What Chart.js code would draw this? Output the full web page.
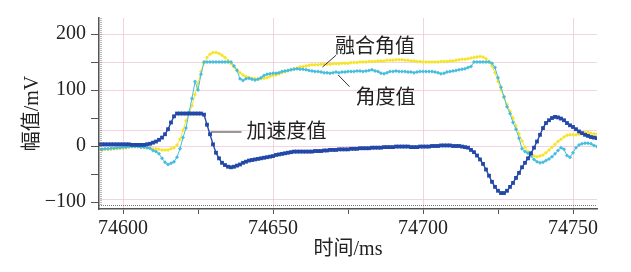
<!DOCTYPE html>
<html lang="zh">
<head>
<meta charset="UTF-8">
<title>幅值 / 时间</title>
<script src="https://cdn.jsdelivr.net/npm/chart.js"></script>
<style>
  html, body { margin: 0; padding: 0; background: #fff; }
  canvas { display: block; }
</style>
</head>
<body>
<canvas id="chart" width="631" height="272"></canvas>
<script>
// samples every 1 ms starting at 74592 ms
var startTime = 74592;

// 加速度值 (mV)
var accel = [
  3, 3, 3, 3, 3, 3, 3, 3, 3, 3,
  3, 2, 2, 2, 2, 2, 3, 4, 6, 8,
  11, 15, 21, 30, 42, 53, 58, 58, 58, 58,
  58, 58, 58, 58, 58, 56, 38, 21, 3, -12,
  -22, -30, -34, -37, -38, -37, -35, -33, -30, -28,
  -26, -25, -24, -23, -22, -21, -20, -19, -18, -16,
  -15, -14, -13, -12, -11, -10, -10, -10, -10, -10,
  -10, -10, -9, -9, -9, -8, -8, -7, -7, -7,
  -6, -6, -6, -6, -5, -5, -5, -4, -4, -4,
  -4, -3, -3, -3, -3, -2, -2, -2, -2, -1,
  -1, -1, -1, -1, -2, -2, -2, -1, -1, -1,
  -1, 0, 0, 0, 1, 1, 1, 1, 0, 0,
  0, -1, -2, -3, -7, -11, -17, -24, -32, -42,
  -53, -64, -73, -80, -84, -84, -80, -73, -66, -57,
  -48, -38, -30, -22, -13, -3, 8, 20, 32, 41,
  46, 50, 52, 51, 49, 46, 41, 37, 34, 30,
  26, 23, 20, 18, 16, 15, 14
];

// 融合角值
var fused = [
  -7, -7, -6, -6, -6, -5, -5, -4, -4, -3,
  -2, -1, -1, -1, -2, -2, -3, -4, -5, -5,
  -6, -7, -7, -7, -5, -3, 2, 12, 28, 45,
  58, 72, 92, 112, 133, 148, 158, 164, 167, 167,
  165, 162, 158, 153, 147, 141, 136, 131, 127, 124,
  122, 121, 120, 120, 120, 121, 122, 124, 126, 127,
  129, 131, 133, 135, 136, 138, 139, 141, 142, 143,
  144, 145, 145, 145, 146, 146, 146, 146, 147, 147,
  147, 148, 148, 148, 149, 149, 149, 150, 150, 150,
  151, 151, 151, 152, 152, 152, 153, 153, 153, 154,
  154, 154, 153, 153, 152, 152, 151, 151, 150, 150,
  150, 150, 150, 150, 151, 151, 151, 152, 152, 153,
  154, 155, 155, 156, 157, 158, 159, 160, 159, 156,
  151, 143, 131, 115, 100, 86, 74, 62, 50, 36,
  22, 9, -2, -10, -15, -18, -19, -18, -16, -12,
  -7, -2, 3, 8, 12, 16, 19, 20, 20, 20,
  21, 22, 24, 24, 23, 22, 21
];

// 角度值
var angle = [
  -6, -6, -5, -5, -4, -4, -3, -3, -2, -2,
  -1, -1, -1, -1, -2, -2, -3, -4, -8, -10,
  -14, -22, -29, -33, -31, -28, -20, -5, 15, 32,
  60, 85, 115, 100, 128, 150, 150, 150, 150, 150,
  150, 150, 150, 150, 150, 143, 135, 120, 117, 120,
  121, 119, 118, 119, 122, 126, 128, 129, 130, 130,
  131, 133, 134, 135, 136, 137, 138, 137, 137, 136,
  135, 134, 133, 133, 132, 131, 131, 130, 131, 132,
  131, 132, 132, 133, 133, 133, 134, 134, 133, 134,
  135, 136, 134, 133, 130, 129, 131, 133, 133, 134,
  133, 133, 133, 132, 132, 131, 132, 133, 133, 133,
  133, 133, 132, 131, 129, 130, 132, 133, 134, 135,
  136, 137, 138, 140, 142, 150, 150, 150, 150, 150,
  150, 148, 140, 122, 105, 88, 70, 58, 42, 30,
  14, -5, -10, -13, -18, -24, -28, -30, -29, -26,
  -23, -19, -14, -8, -3, -6, -17, -20, -12, -3,
  2, 4, 5, 5, 4, 1, -1
];

var times = accel.map(function (v, i) { return startTime + i; });

var xTicks = [74600, 74625, 74650, 74675, 74700, 74725, 74750];
var xLabelTicks = [74600, 74650, 74700, 74750];
var yTicks = [-100, -96, -50, 0, 28, 50, 100, 150, 200];
var yLabelTicks = [-100, 0, 100, 200];
var yGridTicks = [-96, 0, 28, 100, 150, 200];

// callout texts: label position and leader line, in data units (ms, mV)
var callouts = [
  { text: '融合角值', at: [74684, 180], from: [74666.5, 141], to: [74671, 162] },
  { text: '角度值', at: [74687.5, 89], from: [74671.7, 127], to: [74675.5, 106] },
  { text: '加速度值', at: [74654.5, 27], from: [74629.3, 25], to: [74639.5, 25] }
];

var pink = 'rgba(240, 200, 215, 0.8)';
var axisColor = '#555';
var textColor = '#222';
var serif = '"Liberation Serif", "Noto Sans CJK SC", serif';

function toPoints(values) {
  return values.map(function (v, i) { return { x: times[i], y: v }; });
}

var extras = {
  id: 'extras',
  afterDraw: function (chart) {
    var ctx = chart.ctx;
    var a = chart.chartArea;
    var xs = chart.scales.x, ys = chart.scales.y;
    ctx.save();
    // dotted inner frame lines
    ctx.strokeStyle = '#777';
    ctx.lineWidth = 1;
    ctx.setLineDash([1, 1]);
    ctx.beginPath();
    ctx.moveTo(a.left + 2, a.top);
    ctx.lineTo(a.left + 2, a.bottom - 4);
    ctx.moveTo(a.left, a.bottom - 3.5);
    ctx.lineTo(a.right, a.bottom - 3.5);
    ctx.stroke();
    ctx.setLineDash([]);
    // callouts
    ctx.strokeStyle = '#333';
    ctx.fillStyle = textColor;
    ctx.font = '20px "Noto Sans CJK SC", sans-serif';
    ctx.textAlign = 'center';
    ctx.textBaseline = 'middle';
    callouts.forEach(function (c) {
      ctx.beginPath();
      ctx.moveTo(xs.getPixelForValue(c.from[0]), ys.getPixelForValue(c.from[1]));
      ctx.lineTo(xs.getPixelForValue(c.to[0]), ys.getPixelForValue(c.to[1]));
      ctx.stroke();
      ctx.fillText(c.text, xs.getPixelForValue(c.at[0]), ys.getPixelForValue(c.at[1]));
    });
    ctx.restore();
  }
};

var ctx = document.getElementById('chart').getContext('2d');
new Chart(ctx, {
  type: 'line',
  data: {
    datasets: [
      {
        label: '加速度值',
        data: toPoints(accel),
        borderColor: '#2348a8',
        backgroundColor: '#2348a8',
        borderWidth: 1.4,
        pointStyle: 'rect',
        pointRadius: 2.7,
        pointBorderWidth: 0,
        tension: 0
      },
      {
        label: '角度值',
        data: toPoints(angle),
        borderColor: '#45bddc',
        backgroundColor: '#45bddc',
        borderWidth: 1,
        pointStyle: 'rectRot',
        pointRadius: 2,
        pointBorderWidth: 0,
        tension: 0
      },
      {
        label: '融合角值',
        data: toPoints(fused),
        borderColor: '#f6e42c',
        backgroundColor: '#f6e42c',
        borderWidth: 1,
        pointStyle: 'rectRot',
        pointRadius: 2,
        pointBorderWidth: 0,
        tension: 0
      }
    ]
  },
  options: {
    responsive: false,
    animation: false,
    devicePixelRatio: 1,
    layout: { padding: { top: 18, right: 34, left: 0, bottom: 0 } },
    plugins: { legend: { display: false }, tooltip: { enabled: false } },
    scales: {
      x: {
        type: 'linear',
        min: 74592,
        max: 74758,
        afterBuildTicks: function (scale) {
          scale.ticks = xTicks.map(function (v) { return { value: v }; });
        },
        afterFit: function (scale) { scale.height = 63; },
        border: { display: true, color: axisColor, width: 1.5 },
        grid: {
          color: function (c) {
            return c.tick && xLabelTicks.indexOf(c.tick.value) >= 0 ? pink : 'rgba(0,0,0,0)';
          },
          tickColor: axisColor,
          tickLength: 5,
          lineWidth: 1
        },
        ticks: {
          autoSkip: false,
          maxRotation: 0,
          padding: 3,
          color: textColor,
          font: { family: serif, size: 20 },
          callback: function (v) { return xLabelTicks.indexOf(v) >= 0 ? String(v) : ''; }
        },
        title: {
          display: true,
          text: '时间/ms',
          color: textColor,
          font: { family: serif, size: 20 },
          padding: { top: 0, bottom: 10 }
        }
      },
      y: {
        type: 'linear',
        min: -112.5,
        max: 228.6,
        afterBuildTicks: function (scale) {
          scale.ticks = yTicks.map(function (v) { return { value: v }; });
        },
        afterFit: function (scale) { scale.width = 99; },
        border: { display: true, color: axisColor, width: 1.5 },
        grid: {
          color: function (c) {
            return c.tick && yGridTicks.indexOf(c.tick.value) >= 0 ? pink : 'rgba(0,0,0,0)';
          },
          tickColor: function (c) {
            var v = c.tick ? c.tick.value : null;
            return (v === -96 || v === 28) ? 'rgba(0,0,0,0)' : axisColor;
          },
          tickLength: 8,
          lineWidth: 1
        },
        ticks: {
          autoSkip: false,
          padding: 5,
          color: textColor,
          font: { family: serif, size: 20 },
          callback: function (v) {
            if (yLabelTicks.indexOf(v) < 0) return '';
            return v < 0 ? '\u2212' + Math.abs(v) : String(v);
          }
        },
        title: {
          display: true,
          text: '幅值/mV',
          color: textColor,
          font: { family: serif, size: 20 },
          padding: { top: 21, bottom: 0 }
        }
      }
    }
  },
  plugins: [extras]
});
</script>
</body>
</html>
